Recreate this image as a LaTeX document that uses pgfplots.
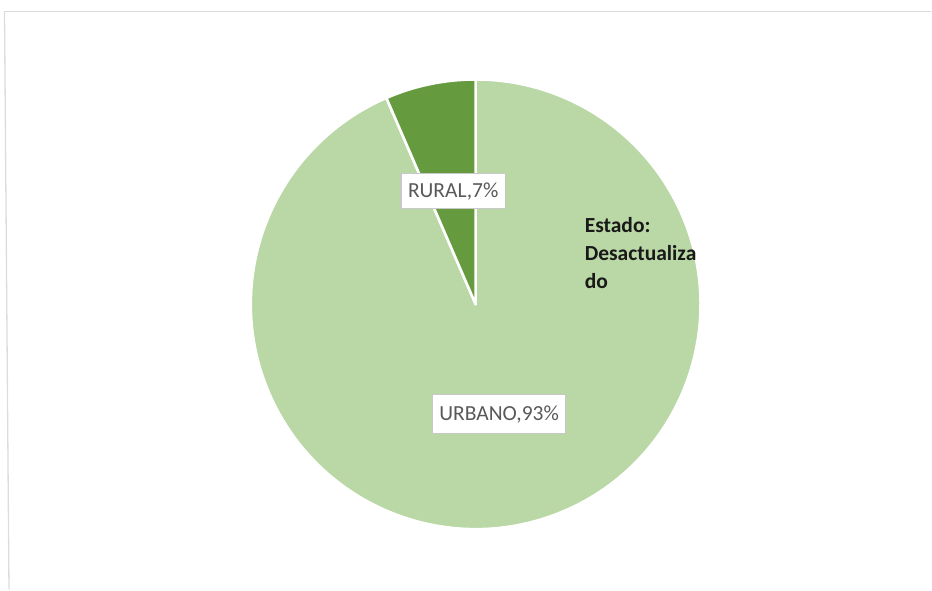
\documentclass[border=0pt]{standalone}
\usepackage{pgfplots}
\usepackage{pgfplotstable}
\pgfplotsset{compat=1.18}
\usepackage{fontspec}
\setmainfont{Carlito}
\definecolor{ruralc}{HTML}{659A3F}
\definecolor{urbanoc}{HTML}{BAD7A6}
\definecolor{lblgray}{HTML}{595959}
\definecolor{boxgray}{HTML}{C8C8C8}
\definecolor{framegray}{HTML}{DCDCDC}
\pgfplotstableread{
name value
RURAL 6.5
URBANO 93.5
}\piedata
\pgfplotstablegetelem{0}{value}\of\piedata \let\vRural\pgfplotsretval
\pgfplotstablegetelem{1}{value}\of\piedata \let\vUrbano\pgfplotsretval
\pgfmathsetmacro{\aStart}{90}
\pgfmathsetmacro{\aMid}{90+3.6*\vRural}
\pgfmathsetmacro{\aEnd}{\aMid+3.6*\vUrbano}
\begin{document}
\begin{tikzpicture}
\begin{axis}[
  x=1pt, y=1pt,
  xmin=0, xmax=932, ymin=0, ymax=590,
  hide axis, clip=false,
]
\path (axis cs:0,0) rectangle (axis cs:932,590);
% frame lines
\draw[framegray, line width=1.3pt] (axis cs:4.5,578.5) -- (axis cs:932,578.5);
\draw[framegray, line width=1.3pt] (axis cs:4.5,578.5) -- (axis cs:9,0);
% pie
\filldraw[fill=urbanoc, draw=white, line width=2.6pt, line join=round]
  (axis cs:476,285.5) -- ++(\aMid:225pt) arc[start angle=\aMid, end angle=\aEnd, radius=225pt] -- cycle;
\filldraw[fill=ruralc, draw=white, line width=2.6pt, line join=round]
  (axis cs:476,285.5) -- ++(\aStart:225pt) arc[start angle=\aStart, end angle=\aMid, radius=225pt] -- cycle;
% data labels
\node[draw=boxgray, fill=white, line width=1.2pt, text=lblgray,
      font=\fontsize{21.5}{25}\selectfont, inner xsep=7pt, inner ysep=0pt,
      minimum width=101pt, minimum height=35pt]
  at (axis cs:453.5,398.5) {RURAL,7\%};
\node[draw=boxgray, fill=white, line width=1.2pt, text=lblgray,
      font=\fontsize{21.5}{25}\selectfont, inner xsep=7pt, inner ysep=0pt,
      minimum width=133pt, minimum height=39pt]
  at (axis cs:499.5,175.5) {URBANO,93\%};
% annotation
\node[anchor=base west, inner sep=0pt, font=\fontsize{21.5}{25}\selectfont\bfseries, text=black!90]
  at (axis cs:585,357) {Estado:};
\node[anchor=base west, inner sep=0pt, font=\fontsize{21.5}{25}\selectfont\bfseries, text=black!90]
  at (axis cs:585,329) {Desactualiza};
\node[anchor=base west, inner sep=0pt, font=\fontsize{21.5}{25}\selectfont\bfseries, text=black!90]
  at (axis cs:585,301) {do};
\end{axis}
\end{tikzpicture}
\end{document}
